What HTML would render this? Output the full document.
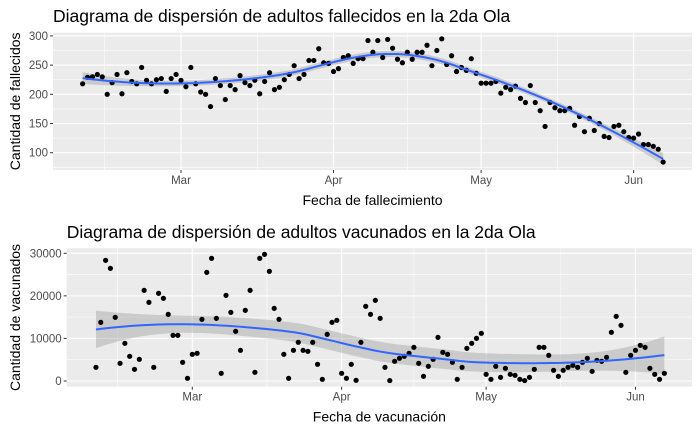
<!DOCTYPE html>
<html><head><meta charset="utf-8">
<style>
html,body{margin:0;padding:0;background:#fff;}
svg{display:block;font-family:"Liberation Sans",sans-serif;}
</style></head>
<body>
<svg id="chart" width="700" height="432" viewBox="0 0 700 432"></svg>
<script>
// ---- Data: daily values, day index relative to Mar 1 ----
const startDay = -20; // Feb 9
const deathValues = [218,229,230,234,230,200,220,234,201,237,222,218,246,224,218,225,227,205,227,234,224,213,246,218,204,200,179,227,215,191,215,208,232,220,215,224,201,222,237,208,212,225,234,249,227,234,258,258,278,254,253,239,244,263,266,
253,261,261,292,272,292,263,294,279,260,254,272,260,272,272,284,249,275,295,251,266,239,246,241,261,236,219,219,219,222,202,212,208,214,193,186,215,186,172,145,186,177,172,172,176,147,162,136,159,138,150,128,126,145,147,136,126,125,132,114,114,111,106,84];
const vaxValues = [3210,13780,28345,26465,14955,4150,8848,5794,2740,5090,21298,18479,3210,20593,19418,15660,10727,10727,4385,626,6264,6499,14486,25526,28814,14720,1801,20123,16130,11667,7204,16600,21298,2036,28814,29754,25761,17069,14486,6264,626,7204,9083,7204,6969,9083,3915,392,10962,13781,14251,1801,626,
3915,157,9083,17539,15660,18949,14720,3210,100,4620,5324,5794,6499,7908,4150,1096,3445,5090,10257,6734,6264,4385,392,3210,7673,8848,10022,11197,1566,392,3445,861,2975,1566,1331,392,100,861,2740,7908,7908,6029,2506,1096,2506,3210,3680,3210,4385,5324,2271,4855,4620,5559,11432,15190,13076,2036,6029,7204,8378,7908,2975,1566,392,1801];
const monthLabels = ["Mar","Apr","May","Jun"];
const monthDays = [0,31,61,92];
const minorDays = [-15.5,15.5,46,76.5];
const deathTicks = [100,150,200,250,300];
const deathMinor = [75,125,175,225,275];
const vaxTicks = [0,10000,20000,30000];
const vaxMinor = [5000,15000,25000];

const NS="http://www.w3.org/2000/svg";
const svg=document.getElementById('chart');
function mk(tag,attrs,parent){const e=document.createElementNS(NS,tag);for(const k in attrs)e.setAttribute(k,attrs[k]);(parent||svg).appendChild(e);return e;}

function loess(xs,ys,grid){
  const n=xs.length,q=Math.floor(0.75*n);
  function fitAt(x0){
    const d=xs.map(x=>Math.abs(x-x0));const h=[...d].sort((a,b)=>a-b)[q-1]*1.0001;
    const w=d.map(v=>{const u=v/h;return u<1?Math.pow(1-u*u*u,3):0;});
    const s=h;
    const M=[[0,0,0],[0,0,0],[0,0,0]];
    const X=xs.map(x=>{const u=(x-x0)/s;return [1,u,u*u];});
    for(let i=0;i<n;i++)for(let a=0;a<3;a++)for(let b=0;b<3;b++)M[a][b]+=w[i]*X[i][a]*X[i][b];
    const inv=inv3(M);
    const l=X.map((r,i)=>w[i]*(inv[0][0]*r[0]+inv[0][1]*r[1]+inv[0][2]*r[2]));
    let f=0,ss=0;for(let i=0;i<n;i++){f+=l[i]*ys[i];ss+=l[i]*l[i];}
    return {f,ss,li:l};
  }
  let rss=0,tr=0;
  for(let i=0;i<n;i++){const r=fitAt(xs[i]);rss+=Math.pow(ys[i]-r.f,2);tr+=r.li[i];}
  const sigma=Math.sqrt(rss/(n-tr));
  return grid.map(x=>{const r=fitAt(x);const se=sigma*Math.sqrt(r.ss);return {x,f:r.f,lo:r.f-1.98*se,hi:r.f+1.98*se};});
}
function inv3(m){
  const [a,b,c]=m[0],[d,e,f]=m[1],[g,h,i]=m[2];
  const A=e*i-f*h,B=-(d*i-f*g),C=d*h-e*g;
  const det=a*A+b*B+c*C;
  return [[A/det,-(b*i-c*h)/det,(b*f-c*e)/det],[B/det,(a*i-c*g)/det,-(a*f-c*d)/det],[C/det,-(a*h-b*g)/det,(a*e-b*d)/det]];
}

function panel(cfg){
  const g=mk('g',{});
  
  
  const {L,R,T,B}=cfg;
  const xS=d=>cfg.x0+d*cfg.xk;
  const yS=v=>B-(v-cfg.yMin)/(cfg.yMax-cfg.yMin)*(B-T);
  const bg=mk('rect',{x:L,y:T,width:R-L,height:B-T,fill:'#EBEBEB'},g);
  
  
  cfg.yMinor.forEach(v=>mk('line',{x1:L,x2:R,y1:yS(v),y2:yS(v),stroke:'#fff','stroke-width':0.55},g));
  minorDays.forEach(d=>mk('line',{x1:xS(d),x2:xS(d),y1:T,y2:B,stroke:'#fff','stroke-width':0.55},g));
  cfg.yTicks.forEach(v=>{
    mk('line',{x1:L,x2:R,y1:yS(v),y2:yS(v),stroke:'#fff','stroke-width':1.1},g);
    mk('line',{x1:L-3,x2:L,y1:yS(v),y2:yS(v),stroke:'#333','stroke-width':1},g);
    const t=mk('text',{x:L-5,y:yS(v)+4,'text-anchor':'end','font-size':11.5,fill:'#4D4D4D'},g);t.textContent=v;
    
    
  });
  monthDays.forEach((d,i)=>{
    mk('line',{x1:xS(d),x2:xS(d),y1:T,y2:B,stroke:'#fff','stroke-width':1.1},g);
    mk('line',{x1:xS(d),x2:xS(d),y1:B,y2:B+3,stroke:'#333','stroke-width':1},g);
    const t=mk('text',{x:xS(d),y:B+14,'text-anchor':'middle','font-size':11.5,fill:'#4D4D4D'},g);t.textContent=monthLabels[i];
    
    
  });
  const xs=cfg.values.map((v,i)=>startDay+i);
  const grid=[];for(let k=0;k<=100;k++)grid.push(xs[0]+(xs[xs.length-1]-xs[0])*k/100);
  const fit=loess(xs,cfg.values,grid);
  const band=mk('path',{d:'M'+fit.map(p=>xS(p.x)+','+yS(p.hi)).join('L')+'L'+fit.slice().reverse().map(p=>xS(p.x)+','+yS(p.lo)).join('L')+'Z',fill:'#999',opacity:0.4},g);
  
  
  cfg.values.forEach((v,i)=>{
    const c=mk('circle',{cx:xS(xs[i]),cy:yS(v),r:2.6,fill:'#000'},g);
    
    
  });
  const line=mk('path',{d:'M'+fit.map(p=>xS(p.x)+','+yS(p.f)).join('L'),fill:'none',stroke:'#3366FF','stroke-width':2},g);
  
  
  const ti=mk('text',{x:L,y:cfg.titleY,'font-size':17.5,fill:'#000'},g);ti.textContent=cfg.title;
  
  
  const xt=mk('text',{x:(L+R)/2,y:B+35,'text-anchor':'middle','font-size':14,fill:'#000'},g);xt.textContent=cfg.xTitle;
  
  
  const yt=mk('text',{x:0,y:0,'text-anchor':'middle','font-size':14,fill:'#000',transform:`translate(${cfg.yTitleX},${(T+B)/2}) rotate(-90)`},g);yt.textContent=cfg.yTitle;
  
  
}

panel({name:'deaths-panel',L:53,R:692,T:32.7,B:170,x0:181,xk:4.92,yMin:70.4,yMax:305.5,
  values:deathValues,yTicks:deathTicks,yMinor:deathMinor,titleY:22,
  title:'Diagrama de dispersión de adultos fallecidos en la 2da Ola',xTitle:'Fecha de fallecimiento',yTitle:'Cantidad de fallecidos',yTitleX:20});
panel({name:'vaccinations-panel',L:66.7,R:692,T:248.3,B:386.7,x0:192.3,xk:4.817,yMin:-1339,yMax:31174,
  values:vaxValues,yTicks:vaxTicks,yMinor:vaxMinor,titleY:238,
  title:'Diagrama de dispersión de adultos vacunados en la 2da Ola',xTitle:'Fecha de vacunación',yTitle:'Cantidad de vacunados',yTitleX:20});
</script>
</body></html>
